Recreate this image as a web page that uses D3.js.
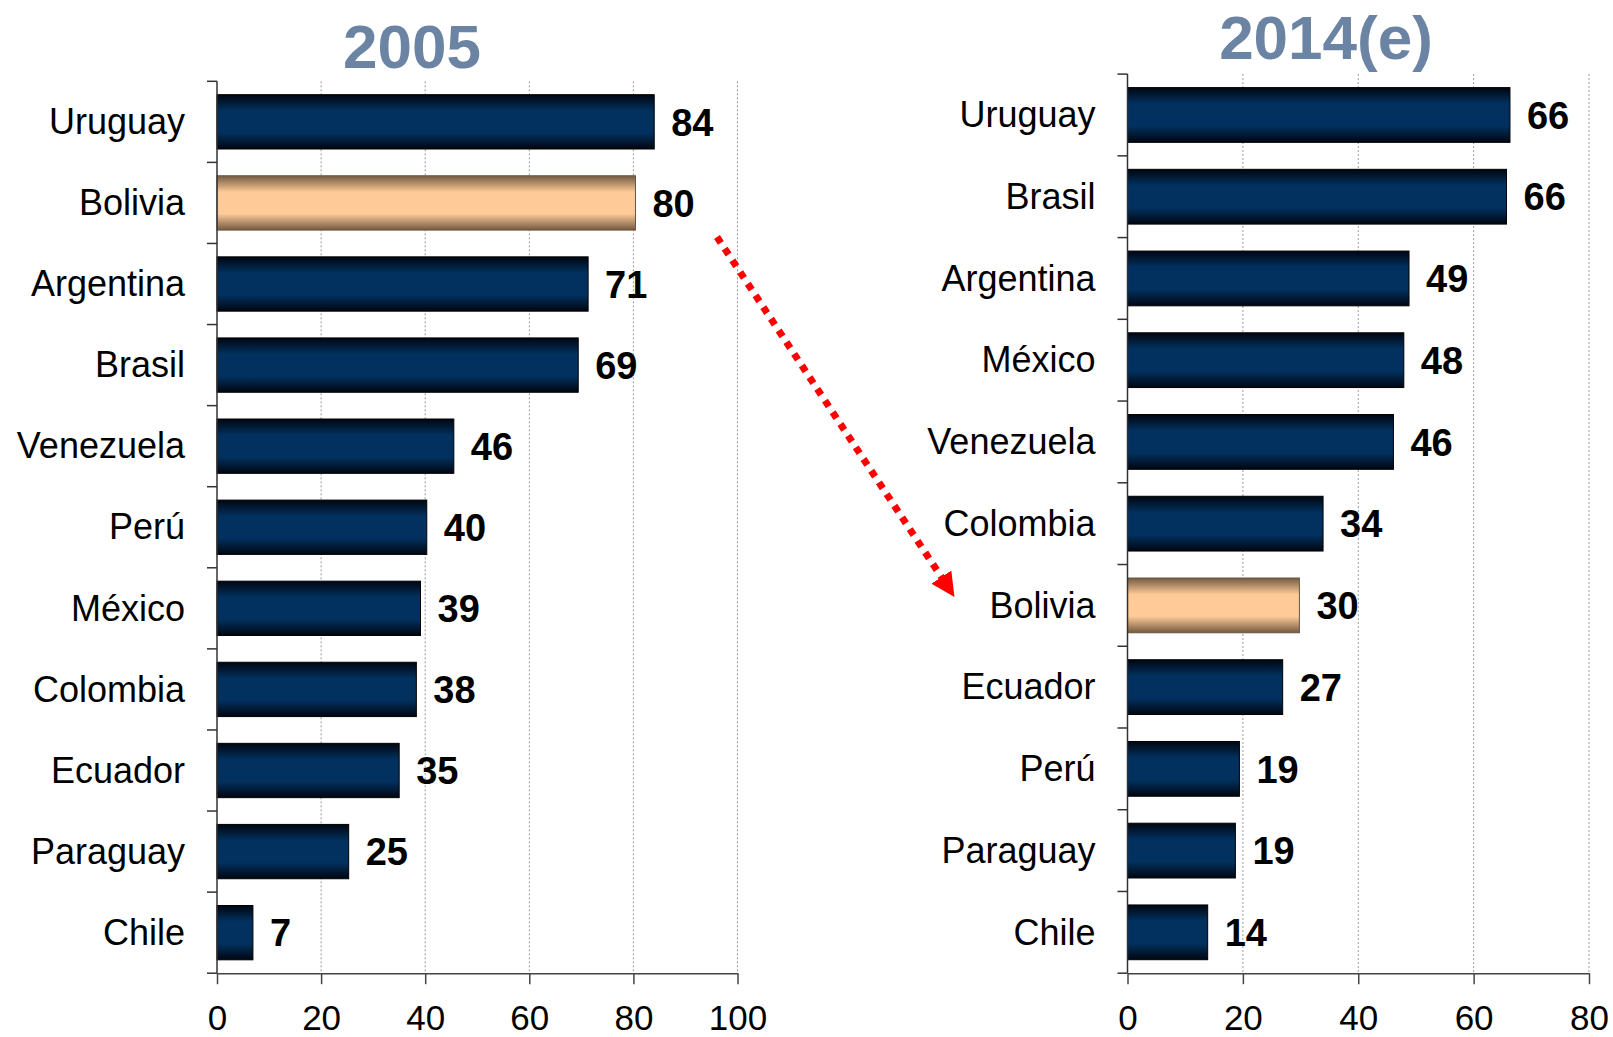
<!DOCTYPE html>
<meta charset="utf-8">

<!-- Load d3.js -->
<script src="https://d3js.org/d3.v7.min.js"></script>

<style>
  body {
    margin: 0;
    background: #fff;
    overflow: hidden;
  }
  svg {
    display: block;
    font-family: "Liberation Sans", Arial, sans-serif;
  }
</style>

<div id="chart"></div>

<script>

// 2005 ranking
var countries2005 = ["Uruguay", "Bolivia", "Argentina", "Brasil", "Venezuela", "Perú", "México", "Colombia", "Ecuador", "Paraguay", "Chile"]
var values2005 = [84, 80.4, 71.3, 69.4, 45.5, 40.3, 39.1, 38.3, 35, 25.3, 6.9]
var ticks2005 = [0, 20, 40, 60, 80, 100]

// 2014 (estimated) ranking
var countries2014 = ["Uruguay", "Brasil", "Argentina", "México", "Venezuela", "Colombia", "Bolivia", "Ecuador", "Perú", "Paraguay", "Chile"]
var values2014 = [66.3, 65.7, 48.8, 47.9, 46.1, 33.9, 29.8, 26.9, 19.4, 18.7, 13.9]
var ticks2014 = [0, 20, 40, 60, 80]

var highlight = "Bolivia"

var width = 1613
    height = 1037

var svg = d3.select("#chart")
  .append("svg")
  .attr("width", width)
  .attr("height", height)

// gradients for the bars (dark edges, lighter middle)
var defs = svg.append("defs")

function addGradient(id, edge, mid) {
  var g = defs.append("linearGradient")
    .attr("id", id)
    .attr("x1", 0).attr("y1", 0)
    .attr("x2", 0).attr("y2", 1)
  g.append("stop").attr("offset", "0%").attr("stop-color", edge)
  g.append("stop").attr("offset", "30%").attr("stop-color", mid)
  g.append("stop").attr("offset", "70%").attr("stop-color", mid)
  g.append("stop").attr("offset", "100%").attr("stop-color", edge)
}
addGradient("navy", "#000611", "#02315f")
addGradient("peach", "#735a41", "#fdca98")

draw({
  names: countries2005, values: values2005, ticks: ticks2005,
  x0: 217, x1: 737.5, top: 81.3, bottom: 973.2,
  title: "2005", titleX: 412, titleY: 68
})

draw({
  names: countries2014, values: values2014, ticks: ticks2014,
  x0: 1127.5, x1: 1589, top: 74.1, bottom: 973.2,
  title: "2014(e)", titleX: 1326, titleY: 59
})

function draw(c) {

  var x = d3.scaleLinear()
    .domain([0, c.ticks[c.ticks.length - 1]])
    .range([c.x0, c.x1])

  var y = d3.scaleBand()
    .domain(c.names)
    .range([c.top, c.bottom])
    .paddingInner(0.33)
    .paddingOuter(0.165)

  var data = c.names.map(function (n, i) { return {name: n, value: c.values[i]} })

  var g = svg.append("g")

  // dotted vertical gridlines
  g.selectAll(".grid")
    .data(c.ticks.slice(1))
    .enter()
    .append("line")
    .attr("x1", function (d) { return x(d) })
    .attr("x2", function (d) { return x(d) })
    .attr("y1", c.top)
    .attr("y2", c.bottom)
    .attr("stroke", "#9a9a9a")
    .attr("stroke-width", 1)
    .attr("stroke-dasharray", "2,2")

  // bars
  g.selectAll(".bar")
    .data(data)
    .enter()
    .append("rect")
    .attr("x", x(0))
    .attr("y", function (d) { return y(d.name) })
    .attr("width", function (d) { return x(d.value) - x(0) })
    .attr("height", y.bandwidth())
    .attr("fill", function (d) { return d.name == highlight ? "url(#peach)" : "url(#navy)" })
    .attr("stroke", function (d) { return d.name == highlight ? "#6b5540" : "#000" })
    .attr("stroke-width", 1)

  // value labels
  g.selectAll(".val")
    .data(data)
    .enter()
    .append("text")
    .attr("x", function (d) { return x(d.value) + 17 })
    .attr("y", function (d) { return y(d.name) + y.bandwidth() / 2 })
    .attr("dy", "0.36em")
    .style("font-size", "38px")
    .style("font-weight", "700")
    .style("fill", "#000")
    .text(function (d) { return Math.round(d.value) })

  // category axis (ticks between bands)
  var step = y.step()
  var bounds = d3.range(c.names.length + 1).map(function (i) { return c.top + i * step })

  g.append("line")
    .attr("x1", c.x0).attr("x2", c.x0)
    .attr("y1", c.top).attr("y2", c.bottom)
    .attr("stroke", "#333")
    .attr("stroke-width", 1.5)

  g.selectAll(".ytick")
    .data(bounds)
    .enter()
    .append("line")
    .attr("x1", c.x0 - 10).attr("x2", c.x0)
    .attr("y1", function (d) { return d })
    .attr("y2", function (d) { return d })
    .attr("stroke", "#333")
    .attr("stroke-width", 1.5)

  g.selectAll(".cat")
    .data(data)
    .enter()
    .append("text")
    .attr("x", c.x0 - 32)
    .attr("y", function (d) { return y(d.name) + y.bandwidth() / 2 })
    .attr("dy", "0.34em")
    .attr("text-anchor", "end")
    .style("font-size", "36px")
    .style("fill", "#000")
    .text(function (d) { return d.name })

  // value axis at the bottom
  var xAxis = g.append("g")
    .attr("transform", "translate(0," + c.bottom + ")")
    .call(d3.axisBottom(x).tickValues(c.ticks).tickSize(11).tickPadding(21).tickSizeOuter(0))

  xAxis.select(".domain").attr("stroke", "#444").attr("stroke-width", 1.5)
  xAxis.selectAll(".tick line").attr("stroke", "#444").attr("stroke-width", 1.5)
  xAxis.selectAll(".tick text")
    .attr("font-family", "Liberation Sans, Arial, sans-serif")
    .style("font-size", "35px")
    .style("fill", "#000")

  // title
  g.append("text")
    .attr("x", c.titleX)
    .attr("y", c.titleY)
    .attr("text-anchor", "middle")
    .style("font-size", "62px")
    .style("font-weight", "700")
    .style("fill", "#6c84a3")
    .text(c.title)
}

// red dotted arrow from the 2005 Bolivia bar to the 2014 Bolivia bar
defs.append("marker")
  .attr("id", "head")
  .attr("viewBox", "0 0 10 10")
  .attr("refX", 2)
  .attr("refY", 5)
  .attr("markerWidth", 3.4)
  .attr("markerHeight", 3.4)
  .attr("markerUnits", "strokeWidth")
  .attr("orient", "auto")
  .append("path")
  .attr("d", "M0,0 L10,5 L0,10 Z")
  .attr("fill", "#ff0000")

svg.append("line")
  .attr("x1", 717).attr("y1", 237)
  .attr("x2", 944).attr("y2", 581)
  .attr("stroke", "#ff0000")
  .attr("stroke-width", 7)
  .attr("stroke-dasharray", "7,7")
  .attr("marker-end", "url(#head)")

</script>
